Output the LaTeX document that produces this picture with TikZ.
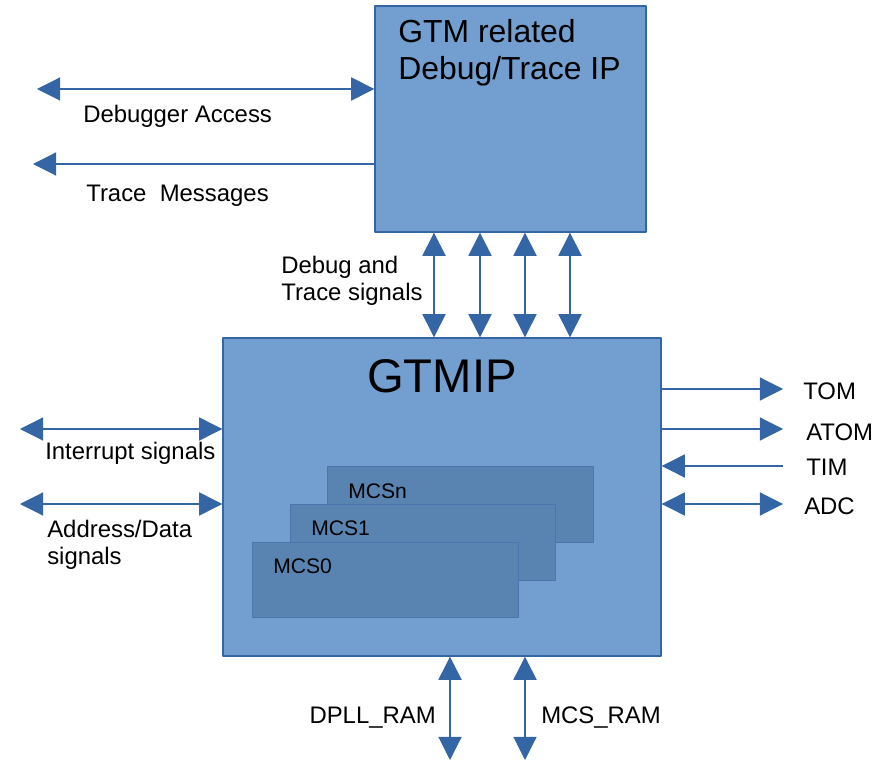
\documentclass[tikz,border=0pt]{standalone}
\usepackage{fontspec}
\setmainfont{Liberation Sans}
\usetikzlibrary{arrows.meta}
\definecolor{boxfill}{HTML}{729FCF}
\definecolor{boxline}{HTML}{3465A4}
\definecolor{mcsfill}{HTML}{5983B0}
\definecolor{mcsline}{HTML}{4A76AD}
\tikzset{
  block/.style={draw=boxline, fill=boxfill, inner sep=0pt, line width=0.9pt},
  mcsbox/.style={draw=mcsline, fill=mcsfill, inner sep=0pt, minimum width=6.625cm, minimum height=1.89cm, line width=0.7pt},
  sig/.style={draw=boxline, line width=0.8pt, -{Triangle[length=5.8mm,width=5.8mm]}},
  bisig/.style={sig, {Triangle[length=5.8mm,width=5.8mm]}-{Triangle[length=5.8mm,width=5.8mm]}},
  lbl/.style={font=\fontsize{17}{19.5}\selectfont, inner sep=0pt, align=left},
}
\begin{document}
\begin{tikzpicture}[x=0.025cm, y=-0.025cm, line join=round]
    \useasboundingbox (0,0) rectangle (880,760);
    % blocks
    \node[block, minimum width=6.775cm, minimum height=5.65cm] (ip) at (510.5,119) {};
    \node[block, minimum width=10.95cm, minimum height=7.95cm] (gtm) at (442,497) {};
    \node[mcsbox] (mcsn) at (460.5,504.5) {};
    \node[mcsbox] (mcs1) at (423,542.5) {};
    \node[mcsbox] (mcs0) at (385.5,580) {};

    \node[lbl, font=\fontsize{22.7}{26.2}\selectfont, anchor=west] (iptitle) at (398,53) {GTM related\\Debug/Trace IP};
    \node[inner sep=0pt, font=\fontsize{33.6}{40}\selectfont] (gtmtitle) at (442,376) {GTMIP};
    \foreach \n/\t/\x/\y in {mcsn/MCSn/348/491, mcs1/MCS1/311/528, mcs0/MCS0/273/566}{
        \node[inner sep=0pt, font=\fontsize{15}{18}\selectfont, anchor=west] (\n text) at (\x,\y) {\t};
    }

    % debugger side
    \coordinate (dbgend) at (37,89);
    \coordinate (trcend) at (33,164);
    \draw[bisig] (dbgend) -- (ip.west |- dbgend);
    \draw[sig] (ip.west |- trcend) -- (trcend);
    \node[lbl, anchor=west] (dbglbl) at (83,116) {Debugger Access};
    \node[lbl, anchor=west] (trclbl) at (86,196) {Trace\ \ Messages};

    % debug and trace signals
    \foreach \x [count=\i] in {434,480,525,570}{
        \coordinate (v\i) at (\x,0);
        \draw[bisig] (ip.south -| v\i) -- (gtm.north -| v\i);
    }
    \node[lbl, anchor=west] (dtlbl) at (281,281) {Debug and\\Trace signals};

    % left side
    \coordinate (intend) at (20,429);
    \coordinate (adrend) at (20,504);
    \draw[bisig] (intend) -- (gtm.west |- intend);
    \draw[bisig] (adrend) -- (gtm.west |- adrend);
    \node[lbl, anchor=west] (intlbl) at (45,453) {Interrupt signals};
    \node[lbl, anchor=west] (adrlbl) at (47,545) {Address/Data\\signals};

    % right side
    \coordinate (tomend) at (783,389);
    \coordinate (atomend) at (783,429);
    \coordinate (timend) at (783,466);
    \coordinate (adcend) at (783,504);
    \draw[sig] (gtm.east |- tomend) -- (tomend);
    \draw[sig] (gtm.east |- atomend) -- (atomend);
    \draw[sig] (timend) -- (gtm.east |- timend);
    \draw[bisig] (gtm.east |- adcend) -- (adcend);
    \node[lbl, anchor=west] (tomlbl) at (803,391) {TOM};
    \node[lbl, anchor=west] (atomlbl) at (806,432) {ATOM};
    \node[lbl, anchor=west] (timlbl) at (806,467) {TIM};
    \node[lbl, anchor=west] (adclbl) at (804,506) {ADC};

    % memories
    \coordinate (dpllend) at (450,760);
    \coordinate (mcsend) at (525,760);
    \draw[bisig] (gtm.south -| dpllend) -- (dpllend);
    \draw[bisig] (gtm.south -| mcsend) -- (mcsend);
    \node[lbl, anchor=east] (dplllbl) at (436,718) {DPLL\_RAM};
    \node[lbl, anchor=west] (mcslbl) at (541,718) {MCS\_RAM};
\end{tikzpicture}
\end{document}
